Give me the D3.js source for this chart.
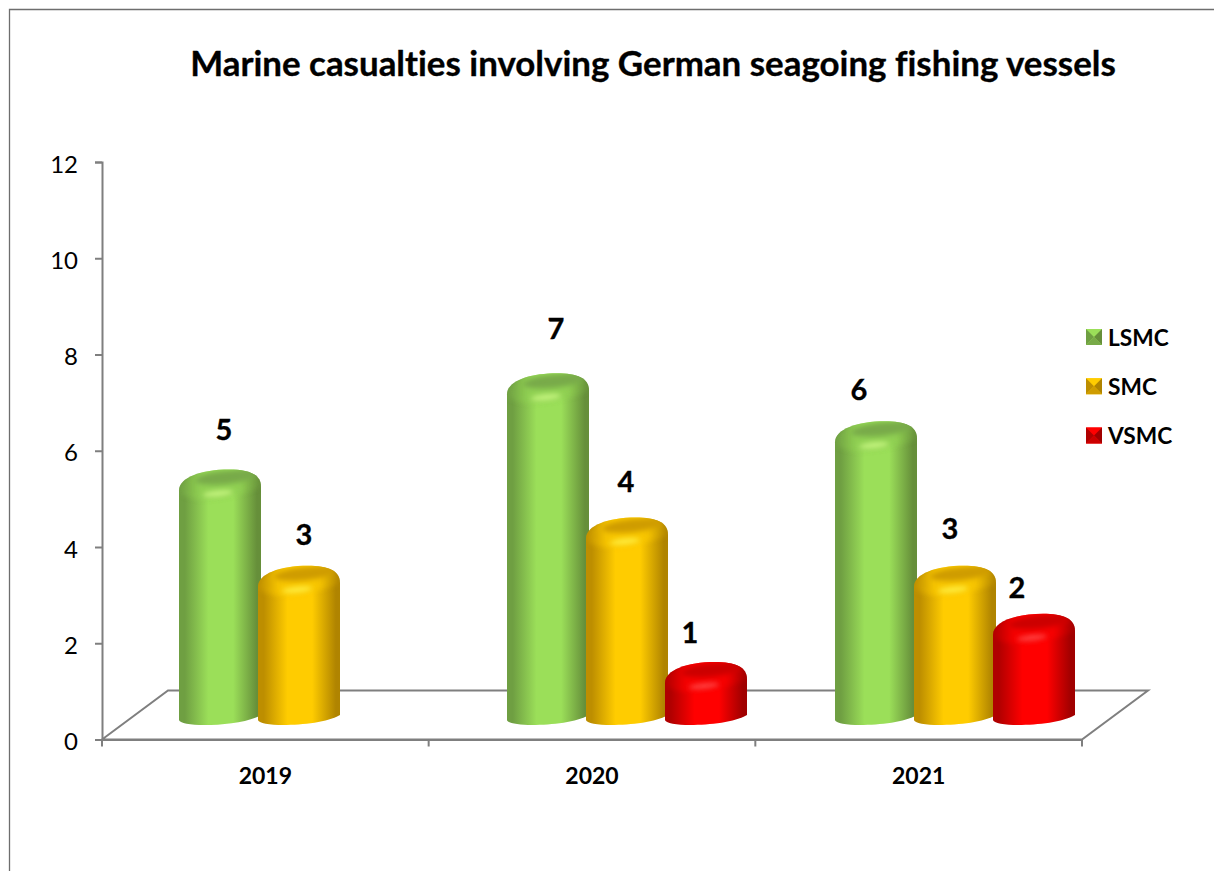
<!DOCTYPE html>
<html><head><meta charset="utf-8">
<script src="https://cdn.jsdelivr.net/npm/d3@7/dist/d3.min.js"></script>
<style>
html,body{margin:0;padding:0;background:#fff;overflow:hidden}
text{font-family:Lato,"Open Sans",sans-serif;fill:#000;font-variant-ligatures:none}
.heavy{stroke:#000;stroke-width:.35px}
</style></head><body>
<script>
const titleText = "Marine casualties involving German seagoing fishing vessels";
const years = ["2019","2020","2021"];
const seriesNames = ["LSMC","SMC","VSMC"];
const lsmcValues = [5,7,6];
const smcValues = [3,4,3];
const vsmcValues = [null,1,2];
const yTicks = [0,2,4,6,8,10,12];
const seriesColors = [
  {edgeL:"#6f9f42",edgeR:"#668f3a",mid:"#9bdf59",top:"#78aa48",hi:"#c4f47e",shoulder:"#90d052"},
  {edgeL:"#bd8e00",edgeR:"#b08400",mid:"#ffcc00",top:"#cf9c00",hi:"#ffec3c",shoulder:"#f8c600"},
  {edgeL:"#b00000",edgeR:"#a00000",mid:"#ff0000",top:"#cc0000",hi:"#ff4040",shoulder:"#f60000"}
];
// hand placement of the value labels relative to each bar's top centre [dx, dy]
const labelNudge = [
  [[4,-41],[8,-46],[-17,-33]],
  [[5,-32],[-1,-37],[-5,-38]],
  [[0,0],[-16,-30],[-17,-27]]
];

const W=1214,H=871;
const svg=d3.select("body").append("svg").attr("width",W).attr("height",H).style("display","block");
const defs=svg.append("defs");

const y=d3.scaleLinear().domain([0,12]).range([739.5,162]);
const x=d3.scaleBand().domain(years).range([102,1082]);
const xBars=d3.scaleBand().domain(years).range([102,1086]);
const depthX=66, depthY=49, barRise=29.5;
const barStep=79, barW=82, barInset=77;
const xs=d3.scaleBand().domain(seriesNames).range([barInset,barInset+barStep*3]);
const floorBottom=725;
const grey="#7f7f7f";

// frame
svg.append("path").attr("d",`M9.5,${H} V9.5 H${W}`).attr("fill","none").attr("stroke","#6e6e6e").attr("stroke-width",1.3);

// title
svg.append("text").attr("class","heavy").attr("x",653).attr("y",76).attr("text-anchor","middle")
  .attr("font-size",34.9).attr("font-weight",700).text(titleText);

// floor
svg.append("path").attr("fill","none").attr("stroke",grey).attr("stroke-width",2)
  .attr("d",`M${x.range()[0]},${y(0)} L${x.range()[0]+depthX},${y(0)-depthY} H${x.range()[1]+depthX} L${x.range()[1]},${y(0)} Z`);

// axes
const gy=svg.append("g").attr("transform","translate(102,0)")
  .call(d3.axisLeft(y).tickValues(yTicks).tickSize(7).tickPadding(17));
gy.selectAll("path,line").attr("stroke",grey).attr("stroke-width",2);
gy.selectAll("text").attr("font-size",24).attr("font-family","Lato").attr("fill","#000").attr("dy","0.42em");

const gx=svg.append("g").attr("transform",`translate(0,${y(0)})`)
  .call(d3.axisBottom(x).tickSize(0).tickPadding(28));
gx.selectAll("path").attr("stroke",grey).attr("stroke-width",2);
gx.selectAll("text").attr("font-size",23).attr("font-weight",700).attr("font-family","Lato").attr("fill","#000");
const edges=years.map(d=>x(d)).concat([x.range()[1]]);
gx.selectAll("line.edge").data(edges).join("line").attr("class","edge")
  .attr("x1",d=>d).attr("x2",d=>d).attr("y1",0).attr("y2",7).attr("stroke",grey).attr("stroke-width",2);

// gradients & filters
seriesColors.forEach((c,i)=>{
  const g=defs.append("linearGradient").attr("id","body"+i);
  [[0,c.edgeL],[.07,c.edgeL],[.36,c.mid],[.66,c.mid],[.95,c.edgeR],[1,c.edgeR]].forEach(s=>
    g.append("stop").attr("offset",s[0]).attr("stop-color",s[1]));
  const t=defs.append("linearGradient").attr("id","face"+i);
  [[0,c.edgeL],[.25,c.shoulder],[.75,c.shoulder],[1,c.edgeR]].forEach(s=>
    t.append("stop").attr("offset",s[0]).attr("stop-color",s[1]));
});
const b=defs.append("filter").attr("id","soft").attr("x","-30%").attr("y","-60%").attr("width","160%").attr("height","220%");
b.append("feGaussianBlur").attr("stdDeviation",2.8);

function outline(w,T,B){
  return `M0,${T+21} C0,${T+8} 22,${T} 50,${T} C${w-12},${T} ${w},${T+5} ${w},${T+17} `+
         `L${w},${B-10} C${w-12},${B-3} ${w-37},${B} ${w-57},${B} C12,${B} 0,${B-2} 0,${B-5} Z`;
}
function capPath(w,T){
  return `M0,${T+21} C0,${T+8} 22,${T} 50,${T} C${w-12},${T} ${w},${T+5} ${w},${T+17} C${w-14},${T+24} ${w-38},${T+29} ${w-60},${T+30} C12,${T+29} 0,${T+26} 0,${T+21} Z`;
}

const seriesValues=[lsmcValues,smcValues,vsmcValues];
const barsLayer=svg.append("g"), labelLayer=svg.append("g");
seriesNames.forEach((name,si)=>{
  const vals=seriesValues[si];
  years.forEach((yr,yi)=>{
    const v=vals[yi];
    if(v==null) return;
    const left=xBars(yr)+xs(name);
    const T=y(v)-barRise;
    const g=barsLayer.append("g").attr("transform",`translate(${left},0)`);
    const clipId=`clip${si}_${yi}`;
    defs.append("clipPath").attr("id",clipId).append("path").attr("d",outline(barW,T,floorBottom));
    g.append("path").attr("d",outline(barW,T,floorBottom)).attr("fill",`url(#body${si})`);
    const inner=g.append("g").attr("clip-path",`url(#${clipId})`);
    inner.append("path").attr("d",capPath(barW,T)).attr("fill",`url(#face${si})`).attr("filter","url(#soft)").attr("opacity",.9);
    inner.append("ellipse").attr("cx",47).attr("cy",T+8).attr("rx",31).attr("ry",6.5)
      .attr("transform",`rotate(-6 47 ${T+8})`).attr("fill",seriesColors[si].top).attr("filter","url(#soft)");
    inner.append("ellipse").attr("cx",39).attr("cy",T+24).attr("rx",15).attr("ry",3)
      .attr("transform",`rotate(-6 39 ${T+24})`).attr("fill",seriesColors[si].hi).attr("filter","url(#soft)");
    const n=labelNudge[si][yi];
    labelLayer.append("text").attr("class","heavy").attr("x",left+barW/2+n[0]).attr("y",T+n[1])
      .attr("text-anchor","middle").attr("dominant-baseline","central")
      .attr("font-size",29).attr("font-weight",700).text(v);
  });
});

// legend
const legendY=d3.scalePoint().domain(seriesNames).range([337,435.5]);
seriesNames.forEach((name,i)=>{
  const c=seriesColors[i], cy=legendY(name), x0=1086, s=16, t=cy-s/2;
  const g=svg.append("g");
  const cx=x0+s/2;
  g.append("rect").attr("x",x0).attr("y",t).attr("width",s).attr("height",s).attr("fill",c.mid);
  g.append("path").attr("d",`M${x0},${t} H${x0+s} L${cx},${cy} Z`).attr("fill",c.mid);
  g.append("path").attr("d",`M${x0},${t} L${cx},${cy} L${x0},${t+s} Z`).attr("fill",c.edgeL);
  g.append("path").attr("d",`M${x0+s},${t} L${cx},${cy} L${x0+s},${t+s} Z`).attr("fill",c.edgeR);
  g.append("path").attr("d",`M${x0},${t+s} L${cx},${cy} L${x0+s},${t+s} Z`).attr("fill",c.top);
  svg.append("text").attr("x",1108).attr("y",cy).attr("dominant-baseline","central")
    .attr("font-size",22.7).attr("font-weight",700).text(name);
});
</script>
</body></html>
